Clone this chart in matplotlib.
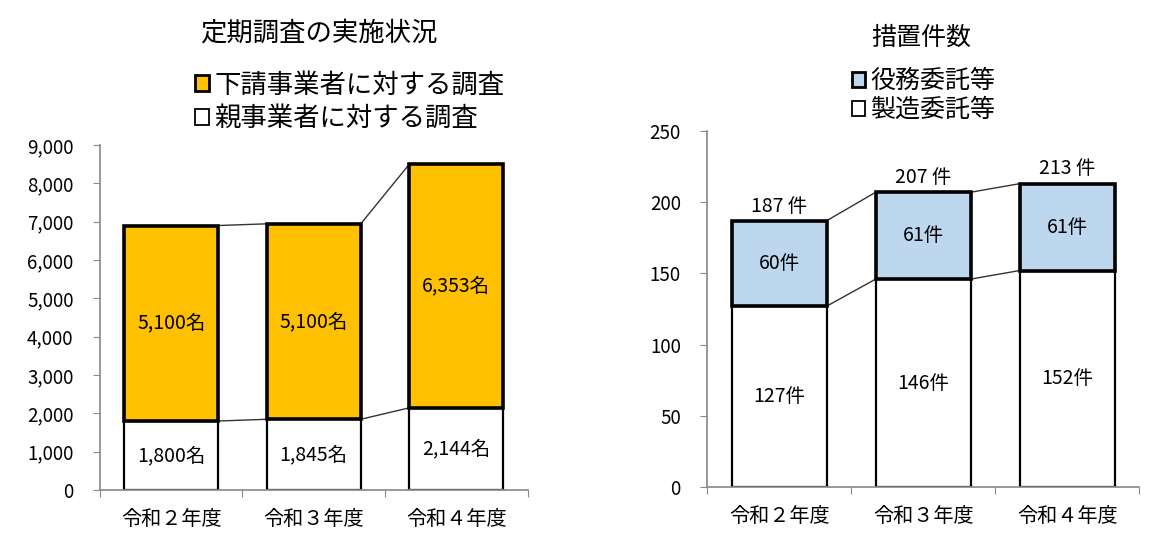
import matplotlib.pyplot as plt
from matplotlib.patches import Patch
import numpy as np

plt.rcParams['font.family'] = ['Noto Sans CJK JP', 'DejaVu Sans']

years = ['令和２年度', '令和３年度', '令和４年度']

# 定期調査の実施状況
oya = [1800, 1845, 2144]        # 親事業者に対する調査
shita = [5100, 5100, 6353]      # 下請事業者に対する調査

# 措置件数
seizo = [127, 146, 152]         # 製造委託等
ekimu = [60, 61, 61]            # 役務委託等

GOLD = '#FFC000'
BLUE = '#BDD7EE'
W = 0.66


def stacked(ax, lower, upper, top_color, unit, total_label=False):
    x = np.arange(len(lower))
    lower = np.array(lower)
    upper = np.array(upper)
    total = lower + upper
    ax.bar(x, lower, W, color='white', edgecolor='black', lw=1.6, zorder=2)
    ax.bar(x, upper, W, bottom=lower, color=top_color, edgecolor='black', lw=2.6, zorder=3)
    # connector lines between bars
    for i in range(len(x) - 1):
        for v in (lower, total):
            ax.plot([x[i] + W / 2, x[i + 1] - W / 2], [v[i], v[i + 1]],
                    color='#333333', lw=1, zorder=1)
    for i in range(len(x)):
        ax.text(x[i], lower[i] / 2, f'{lower[i]:,}{unit}', ha='center', va='center',
                fontsize=14, zorder=4)
        ax.text(x[i], lower[i] + upper[i] / 2, f'{upper[i]:,}{unit}', ha='center',
                va='center', fontsize=14, zorder=4)
        if total_label:
            ax.annotate(f'{total[i]} {unit}', (x[i], total[i]), xytext=(0, 3),
                        textcoords='offset points', ha='center', va='bottom', fontsize=14)
    ax.set_xlim(-0.5, len(x) - 0.5)
    ax.set_xticks(np.arange(len(x) + 1) - 0.5)
    ax.set_xticklabels([])
    ax.set_xticks(x, minor=True)
    ax.set_xticklabels(years, minor=True, fontsize=14.5)
    ax.tick_params(axis='x', which='minor', length=0, pad=14)
    ax.tick_params(axis='x', which='major', length=5, color='#888888', direction='out')
    ax.tick_params(axis='y', length=5, color='#888888', labelsize=13.5, pad=14)
    for s in ('top', 'right'):
        ax.spines[s].set_visible(False)
    for s in ('left', 'bottom'):
        ax.spines[s].set_color('#888888')
        ax.spines[s].set_linewidth(1.2)


fig = plt.figure(figsize=(11.65, 5.39), dpi=100)

ax1 = fig.add_axes([0.0858, 0.0909, 0.367, 0.640])
stacked(ax1, oya, shita, GOLD, '名')
ax1.set_ylim(0, 9000)
ax1.set_yticks(np.arange(0, 9001, 1000))
ax1.set_yticklabels([f'{v:,}' for v in range(0, 9001, 1000)])
fig.text(0.274, 0.938, '定期調査の実施状況', ha='center', va='center', fontsize=19)
h1 = [Patch(facecolor=GOLD, edgecolor='black', lw=2),
      Patch(facecolor='white', edgecolor='black', lw=1.3)]
fig.legend(h1, ['下請事業者に対する調査', '親事業者に対する調査'], loc='upper left',
           bbox_to_anchor=(0.167, 0.867), frameon=False, fontsize=19, handlelength=0.55,
           handleheight=0.55, handletextpad=0.2, labelspacing=0.25, borderpad=0,
           borderaxespad=0)

ax2 = fig.add_axes([0.607, 0.0965, 0.371, 0.6605])
stacked(ax2, seizo, ekimu, BLUE, '件', total_label=True)
ax2.set_ylim(0, 250)
ax2.set_yticks(np.arange(0, 251, 50))
fig.text(0.791, 0.929, '措置件数', ha='center', va='center', fontsize=18)
h2 = [Patch(facecolor=BLUE, edgecolor='black', lw=2),
      Patch(facecolor='white', edgecolor='black', lw=1.3)]
fig.legend(h2, ['役務委託等', '製造委託等'], loc='upper left',
           bbox_to_anchor=(0.731, 0.874), frameon=False, fontsize=18, handlelength=0.55,
           handleheight=0.55, handletextpad=0.2, labelspacing=0.12, borderpad=0,
           borderaxespad=0)

fig.savefig('out.png', dpi=100)
